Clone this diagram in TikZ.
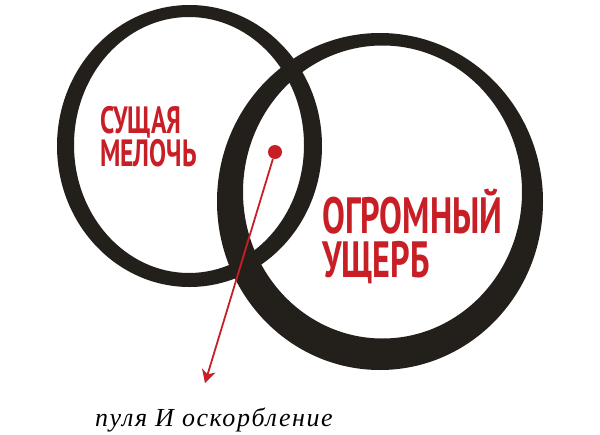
\documentclass[tikz,border=0pt]{standalone}
\usepackage{fontspec}
\setmainfont{Liberation Serif}
\newfontfamily\headfont[FakeStretch=0.67]{PT Sans Bold}
\newfontfamily\notefont[LetterSpace=6]{Liberation Serif}
\usetikzlibrary{arrows.meta}
\usetikzlibrary{positioning}
\definecolor{inkblack}{RGB}{35,32,28}
\definecolor{alarmred}{RGB}{200,30,38}
\tikzset{
    ink_ring/.style = {fill=inkblack, even odd rule},
    label_base/.style = {inner sep=0pt, anchor=base west, align=left, alarmred},
    small_label/.style = {label_base, font=\headfont\fontsize{38}{33}\selectfont},
    big_label/.style = {label_base, font=\headfont\fontsize{51}{44}\selectfont},
    note_label/.style = {inner sep=0pt, anchor=base west, black, font=\notefont\itshape\fontsize{26}{26}\selectfont},
    hit_dot/.style = {circle, fill=alarmred, inner sep=0pt, minimum size=14pt},
    shot/.style = {alarmred, line width=1.8pt, -{Stealth[length=13pt, width=14pt, inset=4pt]}}
}

\begin{document}
\begin{tikzpicture}[x=1pt, y=-1pt]
    \useasboundingbox (0,0) rectangle (600,434);

    % the two rings
    \fill[ink_ring] (189.5,146) ellipse [x radius=132.5pt, y radius=141pt]
                    (189,145) ellipse [x radius=115pt, y radius=128pt];
    \fill[ink_ring] (380,201.5) ellipse [x radius=163pt, y radius=168.5pt]
                    (382.5,192) ellipse [x radius=139.5pt, y radius=146.5pt];

    % labels (base = last line)
    \node[small_label] (small) at (100,166) {СУЩАЯ\\МЕЛОЧЬ};
    \node[big_label] (big) at (322,277) {ОГРОМНЫЙ\\УЩЕРБ};

    % the shot
    \node[hit_dot] (hit) at (275,152) {};
    \coordinate (tip) at (205,383);
    \draw[shot] (hit) -- (tip);

    \node[note_label] (note) at (95,426) {пуля И оскорбление};
\end{tikzpicture}
\end{document}
